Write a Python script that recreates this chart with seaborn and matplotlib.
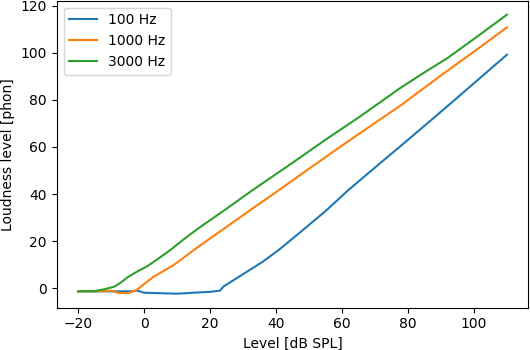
import pandas as pd
import numpy as np
import matplotlib
matplotlib.use("Agg")
import matplotlib.pyplot as plt
import seaborn as sns

# levels, one list per frequency
level_100 = [-20, -10, -4, -2, 0, 5, 10, 16, 20, 23, 24, 30, 36, 41, 47, 55, 62, 70, 78, 86, 94, 102, 110]
phon_100 = [-1.3, -1.3, -1.3, -1.0, -1.9, -2.1, -2.3, -1.8, -1.5, -1.0, 0.7, 6.0, 11.3, 16.5, 23.4, 32.8, 41.8, 51.3, 60.7, 70.2, 79.8, 89.5, 99.2]

level_1000 = [-20, -12, -10, -8, -5, -3, -2, 0, 3, 9, 16.5, 25, 33, 41, 50, 60, 66, 78, 90, 100, 110]
phon_1000 = [-1.3, -1.2, -1.0, -1.9, -2.1, -1.2, -0.4, 1.8, 5.0, 9.9, 17.7, 26.1, 34.0, 41.8, 50.8, 60.6, 66.4, 77.9, 90.4, 100.5, 110.8]

level_3000 = [-20, -15, -12, -9, -7, -5, -2, 1, 4, 8, 12, 16.5, 25, 33, 45, 55, 65.5, 77.6, 85, 92, 100, 110]
phon_3000 = [-1.3, -1.2, -0.4, 0.7, 2.5, 4.7, 7.2, 9.4, 12.3, 16.3, 20.8, 25.5, 33.8, 41.8, 53.3, 63.1, 73.0, 85.0, 91.7, 97.8, 105.9, 116.2]

labels = ["100 Hz", "1000 Hz", "3000 Hz"]

df = pd.concat([
    pd.DataFrame({"level": level_100, "phon": phon_100, "freq": labels[0]}),
    pd.DataFrame({"level": level_1000, "phon": phon_1000, "freq": labels[1]}),
    pd.DataFrame({"level": level_3000, "phon": phon_3000, "freq": labels[2]}),
])

fig, ax = plt.subplots(figsize=(5.3, 3.5), dpi=100)
sns.lineplot(data=df, x="level", y="phon", hue="freq", hue_order=labels,
             palette=["#1f77b4", "#ff7f0e", "#2ca02c"], ax=ax, linewidth=1.5)

ax.set_xlabel("Level [dB SPL]")
ax.set_ylabel("Loudness level [phon]")
ax.legend(loc="upper left", title=None)
ax.set_xticks([-20, 0, 20, 40, 60, 80, 100])
ax.set_yticks([0, 20, 40, 60, 80, 100, 120])

plt.subplots_adjust(left=0.107, right=0.997, top=0.998, bottom=0.121)
plt.savefig("out.png")
